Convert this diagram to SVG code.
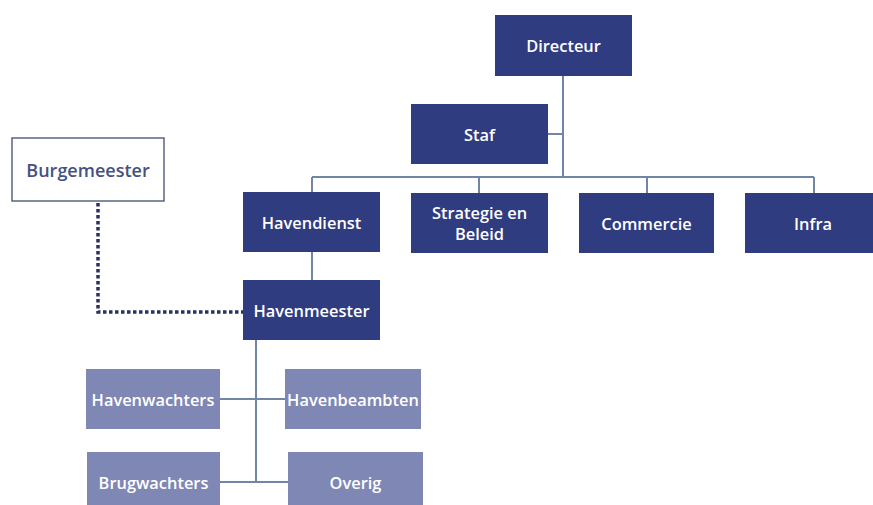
<svg xmlns="http://www.w3.org/2000/svg" width="873" height="505" viewBox="0 0 873 505">
<style>
.d{fill:#2F3C80}
.l{fill:#7F87B4}
.t{font-family:"Open Sans","Liberation Sans",sans-serif;font-weight:600;font-size:16.4px;fill:#ffffff;text-anchor:middle;dominant-baseline:central}
.c{stroke:#7185A6;stroke-width:2;fill:none}
.dot{stroke:#2B3160;stroke-width:3.5;stroke-dasharray:3.5 2.5;fill:none}
</style>
<rect width="873" height="505" fill="#ffffff"/>
<g id="connectors">
<path class="c" d="M563 76V177M548 134H563M312 177H814M312 177V280M479 177V193M647 177V193M814 177V193"/>
<path class="c" d="M256 340V482M220 399H285M220 482H288"/>
<path class="dot" d="M98 203V312H243"/>
</g>
<g id="directeur"><rect class="d" x="495" y="15" width="137" height="61"/><text class="t" x="563.5" y="45">Directeur</text></g>
<g id="staf"><rect class="d" x="411" y="104" width="137" height="60"/><text class="t" x="479.5" y="134">Staf</text></g>
<g id="burgemeester"><rect x="12" y="138" width="152" height="63" fill="#ffffff" stroke="#5A6480" stroke-width="1.5"/><text class="t" x="88" y="170" style="fill:#46517F;font-size:18px">Burgemeester</text></g>
<g id="havendienst"><rect class="d" x="243" y="192" width="137" height="60"/><text class="t" x="311.5" y="222">Havendienst</text></g>
<g id="strategie"><rect class="d" x="411" y="193" width="137" height="60"/><text class="t" x="479.5" y="212">Strategie en</text><text class="t" x="479.5" y="233">Beleid</text></g>
<g id="commercie"><rect class="d" x="579" y="193" width="135" height="60"/><text class="t" x="646.5" y="223">Commercie</text></g>
<g id="infra"><rect class="d" x="745" y="193" width="137" height="60"/><text class="t" x="813" y="223">Infra</text></g>
<g id="havenmeester"><rect class="d" x="243" y="280" width="137" height="60"/><text class="t" x="311.5" y="310">Havenmeester</text></g>
<g id="havenwachters"><rect class="l" x="86" y="369" width="134" height="60"/><text class="t" x="153" y="399">Havenwachters</text></g>
<g id="havenbeambten"><rect class="l" x="285" y="369" width="136" height="60"/><text class="t" x="353" y="399">Havenbeambten</text></g>
<g id="brugwachters"><rect class="l" x="87" y="452" width="133" height="60"/><text class="t" x="153.5" y="482">Brugwachters</text></g>
<g id="overig"><rect class="l" x="288" y="452" width="135" height="60"/><text class="t" x="355.5" y="482">Overig</text></g>
</svg>
